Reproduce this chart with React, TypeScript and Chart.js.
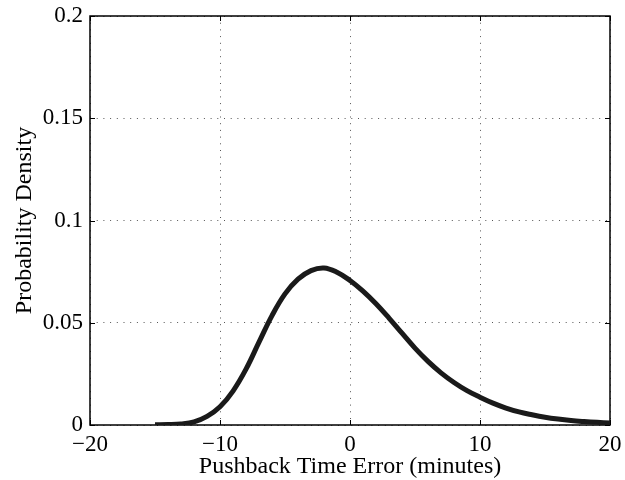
import React, { useEffect, useRef } from "react";
import { Chart, registerables } from "chart.js";

Chart.register(...registerables);

const errorMinutes = [
  -15, -14, -13, -12, -11, -10, -9, -8, -7, -6, -5, -4, -3, -2, -1, 0, 1, 2, 3, 4,
  5, 6, 7, 8, 9, 10, 11, 12, 13, 14, 15, 16, 17, 18, 19, 20,
];
const density = [
  0.0001, 0.0002, 0.0005, 0.0015, 0.0042, 0.0089, 0.0166, 0.0273, 0.0405, 0.0535,
  0.0641, 0.0713, 0.0755, 0.0768, 0.0747, 0.0707, 0.0655, 0.0593, 0.0523, 0.0449,
  0.0376, 0.0311, 0.0255, 0.0208, 0.0168, 0.0136, 0.0107, 0.0083, 0.0064, 0.0050,
  0.0038, 0.0029, 0.0022, 0.0017, 0.0013, 0.0010,
];
const xTicks = [-20, -10, 0, 10, 20];
const yTicks = [0, 0.05, 0.1, 0.15, 0.2];
const xLabel = "Pushback Time Error (minutes)";
const yLabel = "Probability Density";

const FONT = "'Liberation Serif', 'Times New Roman', serif";

const framePlugin = {
  id: "frame",
  beforeDatasetsDraw(chart: any) {
    const { ctx, chartArea, scales } = chart;
    const { left, right, top, bottom } = chartArea;
    ctx.save();
    ctx.strokeStyle = "#000";
    ctx.lineWidth = 1;
    const tl = 5;
    ctx.beginPath();
    xTicks.forEach((t) => {
      const px = Math.round(scales.x.getPixelForValue(t)) + 0.5;
      ctx.moveTo(px, bottom);
      ctx.lineTo(px, bottom - tl);
      ctx.moveTo(px, top);
      ctx.lineTo(px, top + tl);
    });
    yTicks.forEach((t) => {
      const py = Math.round(scales.y.getPixelForValue(t)) + 0.5;
      ctx.moveTo(left, py);
      ctx.lineTo(left + tl, py);
      ctx.moveTo(right, py);
      ctx.lineTo(right - tl, py);
    });
    ctx.stroke();
    ctx.lineWidth = 1.5;
    ctx.strokeRect(left, top, right - left, bottom - top);
    ctx.restore();
  },
};

export default function App() {
  const ref = useRef<HTMLCanvasElement | null>(null);

  useEffect(() => {
    if (!ref.current) return;
    const points = errorMinutes.map((x, i) => ({ x, y: density[i] }));
    const chart = new Chart(ref.current, {
      type: "line",
      data: {
        datasets: [
          {
            data: points,
            borderColor: "#1a1a1a",
            borderWidth: 5,
            pointRadius: 0,
            fill: false,
            tension: 0.4,
          },
        ],
      },
      options: {
        animation: false,
        responsive: false,
        maintainAspectRatio: false,
        events: [],
        layout: { padding: { top: 16, right: 15, left: 0, bottom: 0 } },
        plugins: { legend: { display: false }, tooltip: { enabled: false } },
        scales: {
          x: {
            type: "linear",
            min: -20,
            max: 20,
            afterBuildTicks: (axis: any) => {
              axis.ticks = xTicks.map((v) => ({ value: v }));
            },
            afterFit: (axis: any) => {
              axis.height = 55;
              axis.paddingLeft = 0;
              axis.paddingRight = 0;
            },
            ticks: {
              color: "#000",
              padding: 6,
              font: { family: FONT, size: 23 },
              callback: (v: any) => (Number(v) < 0 ? "\u2212" + Math.abs(Number(v)) : String(v)),
              maxRotation: 0,
            },
            grid: {
              drawTicks: false,
              color: "#555",
              lineWidth: 1,
            },
            border: { display: false, dash: [1, 5.7] },
            title: {
              display: true,
              text: xLabel,
              color: "#000",
              font: { family: FONT, size: 24, lineHeight: 1 },
              padding: { top: 0, bottom: 1 },
            },
          },
          y: {
            min: 0,
            max: 0.2,
            afterBuildTicks: (axis: any) => {
              axis.ticks = yTicks.map((v) => ({ value: v }));
            },
            afterFit: (axis: any) => {
              axis.width = 90;
              axis.paddingTop = 0;
              axis.paddingBottom = 0;
            },
            ticks: {
              color: "#000",
              padding: 7,
              font: { family: FONT, size: 23 },
              callback: (v: any) => String(Number(Number(v).toFixed(2))),
            },
            grid: {
              drawTicks: false,
              color: "#555",
              lineWidth: 1,
            },
            border: { display: false, dash: [1, 5.7] },
            title: {
              display: true,
              text: yLabel,
              color: "#000",
              font: { family: FONT, size: 24, lineHeight: 1 },
              padding: { top: 13, bottom: 0 },
            },
          },
        },
      } as any,
      plugins: [framePlugin],
    });
    return () => chart.destroy();
  }, []);

  return (
    <div style={{ position: "absolute", left: 0, top: 0, width: 625, height: 480, background: "#fff" }}>
      <canvas ref={ref} width={625} height={480} style={{ width: 625, height: 480 }} />
    </div>
  );
}
